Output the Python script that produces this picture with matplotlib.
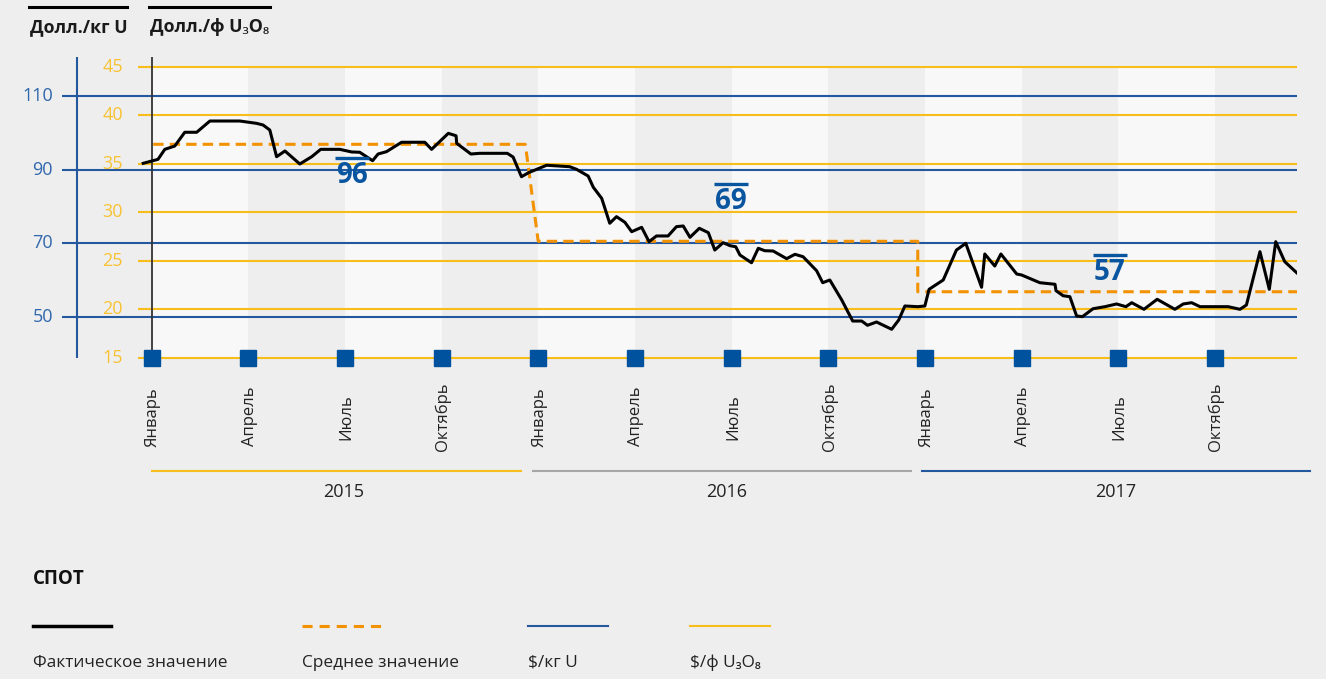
import matplotlib
matplotlib.use("Agg")
import matplotlib.pyplot as plt
from matplotlib.lines import Line2D
from matplotlib.transforms import blended_transform_factory, ScaledTranslation

plt.rcParams['font.family'] = ['Open Sans', 'Noto Sans', 'DejaVu Sans']

# spot price, months counted from January 2015, $/lb U3O8
spot_month = [-0.26, 0.20, 0.41, 0.72, 1.03, 1.40, 1.81, 2.74, 3.26, 3.46, 3.67, 3.88,
              4.14, 4.60, 4.97, 5.25, 5.84, 6.21, 6.46, 6.86, 7.03, 7.29, 7.76, 8.48,
              8.69, 9.21, 9.45, 9.47, 9.91, 10.19, 11.04, 11.22, 11.48, 11.71, 12.26,
              12.98, 13.19, 13.55, 13.71, 13.97, 14.22, 14.43, 14.69, 14.90, 15.21,
              15.44, 15.67, 16.03, 16.29, 16.50, 16.71, 17.00, 17.28, 17.48, 17.74,
              17.95, 18.13, 18.26, 18.62, 18.83, 19.03, 19.29, 19.71, 19.97, 20.22,
              20.64, 20.83, 21.05, 21.42, 21.76, 22.04, 22.22, 22.50, 22.97, 23.19,
              23.38, 23.78, 24.00, 24.13, 24.57, 24.98, 25.27, 25.76, 25.86, 26.17,
              26.36, 26.85, 27.00, 27.57, 28.04, 28.07, 28.29, 28.50, 28.71, 28.89,
              29.22, 29.59, 29.95, 30.24, 30.42, 30.80, 31.21, 31.76, 32.02, 32.28,
              32.54, 33.41, 33.78, 33.98, 34.40, 34.69, 34.89, 35.17, 35.54]
spot_price = [35.04, 35.45, 36.48, 36.82, 38.24, 38.24, 39.40, 39.40, 39.16, 38.99, 38.47, 35.72,
              36.31, 34.97, 35.72, 36.48, 36.48, 36.21, 36.18, 35.31, 36.00, 36.24, 37.21, 37.21,
              36.48, 38.13, 37.88, 37.10, 36.00, 36.07, 36.07, 35.69, 33.66, 34.09, 34.84,
              34.69, 34.42, 33.73, 32.57, 31.43, 28.86, 29.54, 28.96, 27.99, 28.44,
              26.96, 27.55, 27.55, 28.51, 28.58, 27.41, 28.34, 27.89, 26.10, 26.86,
              26.55, 26.44, 25.59, 24.79, 26.28, 26.03, 26.00, 25.21, 25.66, 25.41,
              23.97, 22.73, 23.01, 20.95, 18.78, 18.78, 18.34, 18.68, 17.93, 18.89,
              20.33, 20.26, 20.33, 22.05, 23.01, 26.10, 26.79, 22.26, 25.69, 24.45,
              25.69, 23.63, 23.53, 22.73, 22.57, 21.91, 21.39, 21.29, 19.30, 19.23,
              20.05, 20.26, 20.54, 20.26, 20.67, 19.99, 21.02, 19.99, 20.54, 20.67,
              20.26, 20.26, 19.99, 20.43, 25.93, 22.05, 26.96, 24.90, 23.76]

# yearly average (step line), $/lb
avg_month = [0.05, 11.6, 12.0, 23.78, 23.78, 35.55]
avg_price = [37.0, 37.0, 27.0, 27.0, 21.8, 21.8]
avg_labels = ['96', '69', '57']  # $/kg U
avg_label_month = [6.22, 17.99, 29.74]
avg_label_price = [33.06, 30.38, 23.02]

quarter_month = [0, 3, 6, 9, 12, 15, 18, 21, 24, 27, 30, 33]
quarter_labels = ['Январь', 'Апрель', 'Июль', 'Октябрь'] * 3
years = ['2015', '2016', '2017']
year_start = [0.0, 11.85, 23.9]
year_end = [11.47, 23.57, 35.95]
year_mid = [5.95, 17.86, 29.93]

lb_ticks = [15, 20, 25, 30, 35, 40, 45]
kg_ticks = [50, 70, 90, 110]

legend_labels = ['Фактическое значение', 'Среднее значение', '$/кг U', '$/ф U₃O₈']

YELLOW = '#f7bd1b'
YELLOW_TXT = '#f8c232'
BLUE = '#23579e'
BLUE_TXT = '#3067ad'
MARK = '#00529f'
ORANGE = '#f39200'
GRAY = '#a6a6a6'
BG = '#eeeeee'
LIGHT = '#f8f8f8'

W, H = 1326, 679


def fx(px):
    return px / W


def fy(py):
    return 1 - py / H


fig = plt.figure(figsize=(W / 100, H / 100), dpi=100, facecolor=BG)
ax = fig.add_axes([fx(62), fy(357.7), fx(1297) - fx(62), fy(57) - fy(357.7)])
ax2 = ax.twinx()
ax.set_zorder(2)
ax.patch.set_visible(False)
ax2.patch.set_visible(False)

x_left, x_right = -2.78, 35.55
ax.set_xlim(x_left, x_right)
ax.set_ylim(15, 46)
ax2.set_ylim(38.94, 120.65)
for a in (ax, ax2):
    for s in a.spines.values():
        s.set_visible(False)
    a.set_xticks([])
    a.set_yticks([])

# quarter bands
band_top = (45 - 15) / (46 - 15)
edges = quarter_month + [x_right]
for i in range(len(quarter_month)):
    c = LIGHT if i % 2 == 0 else BG
    ax2.axvspan(edges[i], edges[i + 1], ymin=0, ymax=band_top, color=c, lw=0, zorder=0)

# $/kg U grid
ax2.hlines(kg_ticks, x_left, x_right, color=BLUE, lw=1.5, zorder=1)
ax2.axvline(-2.32, color=BLUE, lw=1.5)
for v in kg_ticks:
    ax2.text(-3.06, v, str(v), ha='right', va='center', color=BLUE_TXT, fontsize=13, clip_on=False)

# $/lb U3O8 grid
ax.hlines(lb_ticks, -0.43, x_right, color=YELLOW, lw=1.5, zorder=1, clip_on=False)
for v in lb_ticks:
    ax.text(-0.89, v, str(v), ha='right', va='center', color=YELLOW_TXT, fontsize=13)

ax.axvline(0, color='#333333', lw=1.3, zorder=2)

ax.plot(avg_month, avg_price, color=ORANGE, lw=2.2, dashes=(3.4, 2.0), zorder=3)
ax.plot(spot_month, spot_price, color='black', lw=2.2, zorder=4)

# average labels with a bar over the number
bar_shift = ScaledTranslation(0, 18 / 72, fig.dpi_scale_trans)
for m, v, t in zip(avg_label_month, avg_label_price, avg_labels):
    ax.text(m, v, t, ha='center', va='baseline', color='#0a55a0', fontsize=20,
            weight='bold', zorder=5)
    ax.plot([m], [v], marker='_', ms=25, mew=2.4, color='#0a55a0',
            transform=ax.transData + bar_shift, zorder=5)

ax.plot(quarter_month, [15] * len(quarter_month), 's', color=MARK, ms=11,
        clip_on=False, zorder=6)

for m, lbl in zip(quarter_month, quarter_labels):
    ax.annotate(lbl, xy=(m, 0), xycoords=('data', 'axes fraction'), xytext=(1, -42.5),
                textcoords='offset points', rotation=90, ha='center', va='center',
                fontsize=12, color='#222222')

trans = blended_transform_factory(ax.transData, ax.transAxes)
for y, s, e, mid, c in zip(years, year_start, year_end, year_mid, [YELLOW, GRAY, BLUE]):
    ax.plot([s, e], [-0.3758, -0.3758], color=c, lw=1.5, transform=trans, clip_on=False)
    ax.text(mid, -0.4466, y, transform=trans, ha='center', va='center',
            fontsize=13, color='#222222')

# header
fig.text(fx(30), fy(32), 'Долл./кг U', weight='bold', fontsize=12.8, va='baseline', color='#1a1a1a')
fig.text(fx(150), fy(32), 'Долл./ф U₃O₈', weight='bold', fontsize=12.8, va='baseline', color='#1a1a1a')
fig.add_artist(Line2D([fx(29), fx(127)], [fy(7.3), fy(7.3)], color='black', lw=2.2))
fig.add_artist(Line2D([fx(149), fx(270)], [fy(7.3), fy(7.3)], color='black', lw=2.2))

# legend
fig.text(fx(33), fy(579), 'СПОТ', weight='bold', fontsize=13.5, va='center', color='#111111')
leg_x = [33, 302, 528, 690]
fig.add_artist(Line2D([fx(33), fx(111)], [fy(626)] * 2, color='black', lw=2.5))
fig.add_artist(Line2D([fx(302), fx(382)], [fy(626)] * 2, color=ORANGE, lw=2.2, dashes=(3.3, 2.3)))
fig.add_artist(Line2D([fx(528), fx(608)], [fy(626)] * 2, color=BLUE, lw=1.5))
fig.add_artist(Line2D([fx(690), fx(770)], [fy(626)] * 2, color=YELLOW, lw=1.5))
for x, t in zip(leg_x, legend_labels):
    fig.text(fx(x), fy(663), t, fontsize=12.4, va='center', color='#222222')

fig.savefig('out.png', dpi=100, facecolor=BG)
